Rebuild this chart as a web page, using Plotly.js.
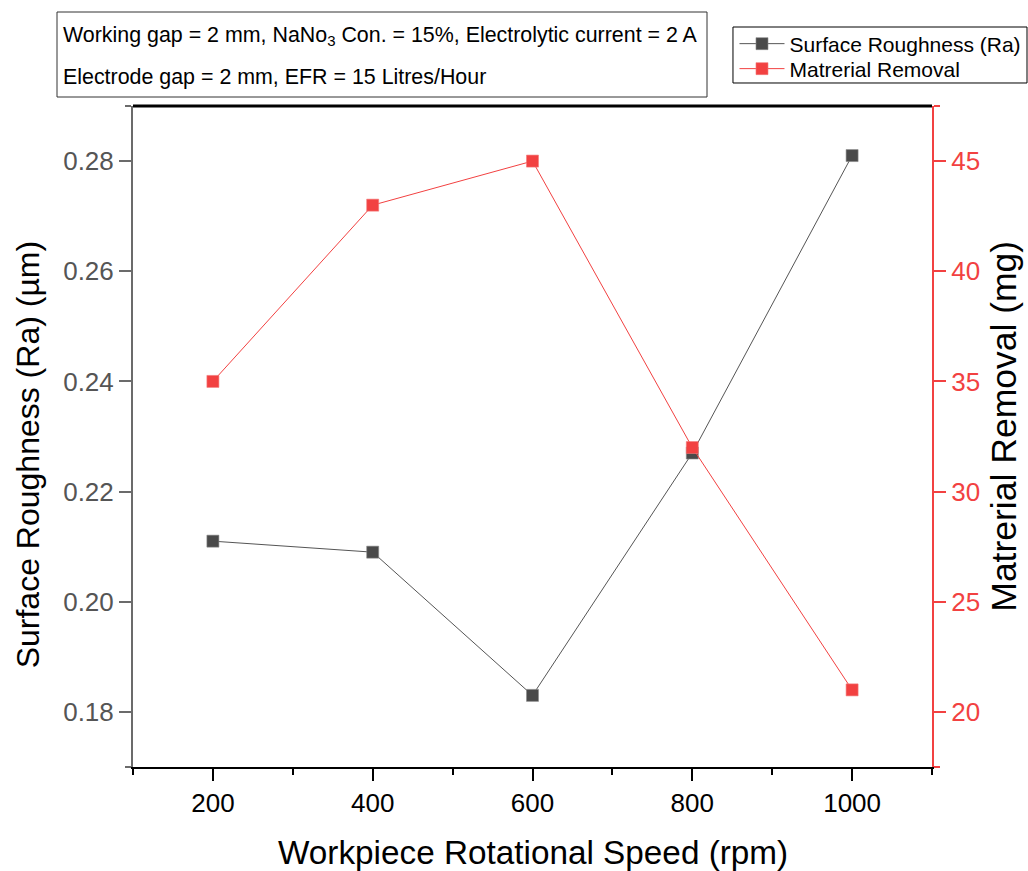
<!DOCTYPE html>
<html>
<head>
<meta charset="utf-8">
<script src="https://cdn.plot.ly/plotly-3.0.1.min.js"></script>
<style>
  html, body { margin: 0; padding: 0; background: #fff; }
  #chart { width: 1028px; height: 871px; }
</style>
</head>
<body>
<div id="chart"></div>
<script>
// Workpiece rotational speed (rpm)
const speeds = [200, 400, 600, 800, 1000];
// Surface roughness Ra (µm)
const roughness = [0.211, 0.209, 0.183, 0.227, 0.281];
// Material removal (mg)
const removal = [35, 43, 45, 32, 21];

// Tick positions
const xMajorTicks = [200, 400, 600, 800, 1000];
const xMinorTicks = [100, 300, 500, 700, 900, 1100];
const raTicks = [0.18, 0.20, 0.22, 0.24, 0.26, 0.28];
const raEndTicks = [0.17, 0.29];
const mrTicks = [20, 25, 30, 35, 40, 45];
const mrEndTicks = [17.5, 47.5];

// Legend, axis titles and note texts
const seriesNames = ['Surface Roughness (Ra)', 'Matrerial Removal'];
const xTitle = 'Workpiece Rotational Speed (rpm)';
const yTitle = 'Surface Roughness (Ra) (µm)';
const y2Title = 'Matrerial Removal (mg)';
const noteLines = [
  'Working gap = 2 mm, NaNo<sub>3</sub> Con. = 15%, Electrolytic current = 2 A',
  'Electrode gap = 2 mm, EFR = 15 Litres/Hour'
];

const FONT = '"Liberation Sans", Arial, sans-serif';
const RED = '#f24141';
const GREY = '#4a4a4a';
const AXGREY = '#6b6b6b';

const traces = [
  {
    x: speeds, y: roughness, name: seriesNames[0],
    type: 'scatter', mode: 'lines+markers',
    xaxis: 'x', yaxis: 'y', legend: 'legend',
    line: { color: '#555555', width: 1 },
    marker: { symbol: 'square', size: 12, color: GREY, line: { color: '#8a8a8a', width: 0.6 } }
  },
  {
    x: speeds, y: removal, name: seriesNames[1],
    type: 'scatter', mode: 'lines+markers',
    xaxis: 'x', yaxis: 'y2', legend: 'legend2',
    line: { color: RED, width: 1 },
    marker: { symbol: 'square', size: 12, color: RED, line: { color: '#f47a7a', width: 0.6 } }
  }
];

// plot area in pixels: left 133, right 932, top 106, bottom 767
const legendCommon = {
  xanchor: 'left', yanchor: 'middle',
  bgcolor: 'rgba(0,0,0,0)', borderwidth: 0,
  font: { family: FONT, size: 21, color: '#000' },
  itemwidth: 45
};

const layout = {
  width: 1028, height: 871,
  margin: { l: 133, r: 96, t: 106, b: 104, autoexpand: false },
  paper_bgcolor: '#ffffff', plot_bgcolor: '#ffffff',
  font: { family: FONT, color: '#000' },
  showlegend: true,
  legend: Object.assign({ x: 0.7528, y: 1.0938 }, legendCommon),
  legend2: Object.assign({ x: 0.7528, y: 1.0560 }, legendCommon),
  xaxis: {
    range: [100, 1100], automargin: false,
    tickvals: xMajorTicks, ticktext: xMajorTicks.map(String),
    ticks: 'outside', ticklen: 12, tickwidth: 2, tickcolor: '#000',
    minor: { tickvals: xMinorTicks, ticks: 'outside', ticklen: 6, tickwidth: 2, tickcolor: '#000', showgrid: false },
    showline: true, linecolor: '#000', linewidth: 2,
    showgrid: false, zeroline: false,
    tickfont: { family: FONT, size: 26, color: '#000' }
  },
  // top frame axis with inward ticks
  xaxis2: {
    overlaying: 'x', side: 'top', anchor: 'y', automargin: false,
    range: [100, 1100],
    tickvals: xMajorTicks, ticks: 'inside', ticklen: 12, tickwidth: 2, tickcolor: '#000',
    showticklabels: false,
    showline: true, linecolor: '#000', linewidth: 2,
    showgrid: false, zeroline: false
  },
  yaxis: {
    range: [0.17, 0.29], automargin: false,
    tickmode: 'array', tickvals: raTicks, ticktext: raTicks.map(v => v.toFixed(2)),
    ticks: 'outside', ticklen: 12, tickwidth: 2, tickcolor: AXGREY,
    minor: { tickvals: raEndTicks, ticks: 'outside', ticklen: 6, tickwidth: 2, tickcolor: AXGREY, showgrid: false },
    showline: true, linecolor: AXGREY, linewidth: 2,
    showgrid: false, zeroline: false,
    tickfont: { family: FONT, size: 26, color: '#555555' }
  },
  yaxis2: {
    overlaying: 'y', side: 'right', anchor: 'x',
    range: [17.5, 47.5], automargin: false,
    tickmode: 'array', tickvals: mrTicks, ticktext: mrTicks.map(String),
    ticks: 'outside', ticklen: 12, tickwidth: 2, tickcolor: RED,
    minor: { tickvals: mrEndTicks, ticks: 'outside', ticklen: 6, tickwidth: 2, tickcolor: RED, showgrid: false },
    showline: true, linecolor: RED, linewidth: 2,
    showgrid: false, zeroline: false,
    tickfont: { family: FONT, size: 26, color: RED }
  },
  shapes: [
    // note box
    {
      type: 'rect', xref: 'paper', yref: 'paper',
      x0: -0.0951, x1: 0.7184, y0: 1.0136, y1: 1.1422,
      line: { color: '#333', width: 1 }, fillcolor: 'rgba(0,0,0,0)'
    },
    // legend box
    {
      type: 'rect', xref: 'paper', yref: 'paper',
      x0: 0.7509, x1: 1.1189, y0: 1.0348, y1: 1.1195,
      line: { color: '#000', width: 1 }, fillcolor: 'rgba(0,0,0,0)'
    },
    // top frame line
    {
      type: 'line', xref: 'paper', yref: 'paper',
      x0: 0, x1: 1, y0: 1, y1: 1,
      line: { color: '#000', width: 3 }
    }
  ],
  annotations: [
    {
      xref: 'paper', yref: 'paper', x: -0.0901, y: 1.1059,
      xanchor: 'left', yanchor: 'middle', showarrow: false,
      text: noteLines[0], font: { family: FONT, size: 21.4, color: '#000' }
    },
    {
      xref: 'paper', yref: 'paper', x: -0.0901, y: 1.0439,
      xanchor: 'left', yanchor: 'middle', showarrow: false,
      text: noteLines[1], font: { family: FONT, size: 21.4, color: '#000' }
    },
    {
      xref: 'paper', yref: 'paper', x: 0.5, y: -0.130,
      xanchor: 'center', yanchor: 'middle', showarrow: false,
      text: xTitle, font: { family: FONT, size: 33.3, color: '#000' }
    },
    {
      xref: 'paper', yref: 'paper', x: -0.131, y: 0.472,
      xanchor: 'center', yanchor: 'middle', showarrow: false, textangle: -90,
      text: yTitle, font: { family: FONT, size: 32, color: '#000' }
    },
    {
      xref: 'paper', yref: 'paper', x: 1.089, y: 0.515,
      xanchor: 'center', yanchor: 'middle', showarrow: false, textangle: -90,
      text: y2Title, font: { family: FONT, size: 35.5, color: '#000' }
    }
  ]
};

Plotly.newPlot('chart', traces, layout, { displayModeBar: false, staticPlot: true });
</script>
</body>
</html>
